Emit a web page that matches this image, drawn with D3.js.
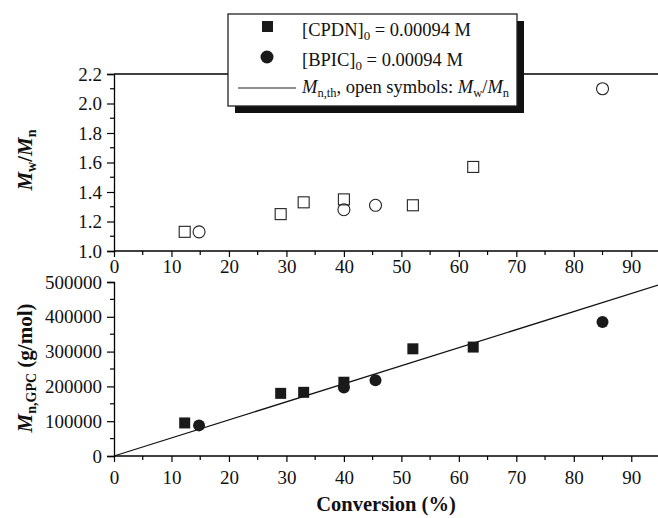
<!DOCTYPE html>
<html>
<head>
<meta charset="utf-8">
<script src="https://cdn.jsdelivr.net/npm/d3@7"></script>
<style>
  html, body { margin: 0; padding: 0; background: #fff; }
</style>
</head>
<body>
<svg id="chart" width="658" height="518"></svg>
<script>
// ---- data ----
const cpdnConversion = [12.3, 29, 33, 40, 52, 62.5];
const cpdnMn = [95000, 180000, 183000, 212000, 308000, 313000];
const cpdnPDI = [1.13, 1.25, 1.33, 1.35, 1.31, 1.57];

const bpicConversion = [14.8, 40, 45.5, 85];
const bpicMn = [88000, 197000, 218000, 385000];
const bpicPDI = [1.13, 1.28, 1.31, 2.10];

const theoryConversion = [0, 95];
const theoryMn = [0, 493000];

const xTicks = [0, 10, 20, 30, 40, 50, 60, 70, 80, 90];
const pdiTicks = [1.0, 1.2, 1.4, 1.6, 1.8, 2.0, 2.2];
const mnTicks = [0, 100000, 200000, 300000, 400000, 500000];

// ---- layout ----
const FONT = "\"Liberation Serif\"";
const svg = d3.select("#chart").style("font-family", FONT);
const x = d3.scaleLinear().domain([0, 95]).range([114, 660]);
const yTop = d3.scaleLinear().domain([1.0, 2.2]).range([251, 74]);
const yBot = d3.scaleLinear().domain([0, 500000]).range([456, 282]);

const tickFont = 19;

function xAxis(g, y0, labelGap) {
  const ax = d3.axisBottom(x).tickValues(xTicks).tickFormat(d3.format("d")).tickSize(6).tickPadding(labelGap);
  g.attr("transform", `translate(0,${y0})`).call(ax);
  const minors = d3.range(5, 96, 10);
  g.selectAll("line.minor").data(minors).enter().append("line")
    .attr("class", "minor").attr("x1", d => x(d)).attr("x2", d => x(d))
    .attr("y1", 0).attr("y2", 4).attr("stroke", "#000").attr("stroke-width", 1.2);
}
function yAxis(g, scale, ticks, minors, fmt) {
  const ax = d3.axisLeft(scale).tickValues(ticks).tickFormat(fmt).tickSize(7).tickPadding(5);
  g.attr("transform", `translate(${x(0)},0)`).call(ax);
  g.selectAll("line.minor").data(minors).enter().append("line")
    .attr("class", "minor").attr("y1", d => scale(d)).attr("y2", d => scale(d))
    .attr("x1", 0).attr("x2", -4).attr("stroke", "#000").attr("stroke-width", 1.2);
}
function styleAxis(g) {
  g.attr("font-family", null).attr("font-size", null);
  g.select(".domain").attr("stroke", "#000").attr("stroke-width", 1.3);
  g.selectAll(".tick line").attr("stroke", "#000").attr("stroke-width", 1.2);
  g.selectAll("text").style("font-size", tickFont + "px").attr("fill", "#111")
    .style("font-family", FONT);
}

// top panel
const gxTop = svg.append("g");
xAxis(gxTop, yTop(1.0), 3);
gxTop.select(".domain").attr("d", `M${x(0)},0H658`);
styleAxis(gxTop);

const gyTop = svg.append("g");
yAxis(gyTop, yTop, pdiTicks, [1.1, 1.3, 1.5, 1.7, 1.9, 2.1], d3.format(".1f"));
styleAxis(gyTop);

svg.append("line").attr("x1", x(0)).attr("x2", 658)
  .attr("y1", yTop(2.2)).attr("y2", yTop(2.2)).attr("stroke", "#000").attr("stroke-width", 1.3);

// bottom panel
const gxBot = svg.append("g");
xAxis(gxBot, yBot(0), 9);
gxBot.select(".domain").attr("d", `M${x(0)},0H658`);
styleAxis(gxBot);

const gyBot = svg.append("g");
yAxis(gyBot, yBot, mnTicks, d3.range(50000, 500000, 100000), d3.format("d"));
styleAxis(gyBot);

// theory line
const line = d3.line().x(d => x(d[0])).y(d => yBot(d[1]));
svg.append("path").datum(d3.zip(theoryConversion, theoryMn))
  .attr("d", line).attr("fill", "none").attr("stroke", "#111").attr("stroke-width", 1.3);

const sq = 11, rad = 6;
svg.append("g").selectAll("rect").data(d3.zip(cpdnConversion, cpdnPDI)).enter().append("rect")
  .attr("x", d => x(d[0]) - sq / 2).attr("y", d => yTop(d[1]) - sq / 2)
  .attr("width", sq).attr("height", sq).attr("fill", "none").attr("stroke", "#222").attr("stroke-width", 1.1);
svg.append("g").selectAll("circle").data(d3.zip(bpicConversion, bpicPDI)).enter().append("circle")
  .attr("cx", d => x(d[0])).attr("cy", d => yTop(d[1])).attr("r", rad)
  .attr("fill", "none").attr("stroke", "#222").attr("stroke-width", 1.1);

svg.append("g").selectAll("rect").data(d3.zip(cpdnConversion, cpdnMn)).enter().append("rect")
  .attr("x", d => x(d[0]) - sq / 2).attr("y", d => yBot(d[1]) - sq / 2)
  .attr("width", sq).attr("height", sq).attr("fill", "#1a1a1a");
svg.append("g").selectAll("circle").data(d3.zip(bpicConversion, bpicMn)).enter().append("circle")
  .attr("cx", d => x(d[0])).attr("cy", d => yBot(d[1])).attr("r", rad).attr("fill", "#1a1a1a");

// axis titles
svg.append("text").attr("x", x(0) + (658 - x(0)) / 2).attr("y", 511)
  .attr("text-anchor", "middle").style("font-size", "20.5px").attr("font-weight", "bold").attr("fill", "#111")
  .style("font-family", FONT).text("Conversion (%)");

const tTop = svg.append("text").attr("transform", "translate(32,160) rotate(-90)")
  .attr("text-anchor", "middle").style("font-size", "21px").attr("font-weight", "bold").attr("fill", "#111")
  .style("font-family", FONT);
tTop.append("tspan").attr("font-style", "italic").text("M");
tTop.append("tspan").style("font-size", "14px").attr("dy", 4).text("w");
tTop.append("tspan").attr("dy", -4).text("/");
tTop.append("tspan").attr("font-style", "italic").text("M");
tTop.append("tspan").style("font-size", "14px").attr("dy", 4).text("n");

const tBot = svg.append("text").attr("transform", "translate(32,368) rotate(-90)")
  .attr("text-anchor", "middle").style("font-size", "21px").attr("font-weight", "bold").attr("fill", "#111")
  .style("font-family", FONT);
tBot.append("tspan").attr("font-style", "italic").text("M");
tBot.append("tspan").style("font-size", "14px").attr("dy", 4).text("n,GPC");
tBot.append("tspan").attr("dy", -4).text(" (g/mol)");

// legend
const lg = svg.append("g");
lg.append("rect").attr("x", 235).attr("y", 21).attr("width", 289).attr("height", 92).attr("fill", "#111");
lg.append("rect").attr("x", 228).attr("y", 14).attr("width", 289).attr("height", 92)
  .attr("fill", "#fff").attr("stroke", "#222").attr("stroke-width", 1.3);
lg.append("rect").attr("x", 262).attr("y", 21).attr("width", 11).attr("height", 11).attr("fill", "#1a1a1a");
lg.append("circle").attr("cx", 267).attr("cy", 57).attr("r", 6.5).attr("fill", "#1a1a1a");
lg.append("line").attr("x1", 238).attr("x2", 296).attr("y1", 88).attr("y2", 88).attr("stroke", "#222").attr("stroke-width", 1.2);

function legendText(y) {
  return lg.append("text").attr("x", 302).attr("y", y).style("font-size", "18.5px")
    .style("font-family", FONT).attr("fill", "#111");
}
const l1 = legendText(36);
l1.append("tspan").text("[CPDN]");
l1.append("tspan").style("font-size", "13px").attr("dy", 4).text("0");
l1.append("tspan").attr("dy", -4).text(" = 0.00094 M");

const l2 = legendText(66);
l2.append("tspan").text("[BPIC]");
l2.append("tspan").style("font-size", "13px").attr("dy", 4).text("0");
l2.append("tspan").attr("dy", -4).text(" = 0.00094 M");

const l3 = legendText(93);
l3.append("tspan").attr("font-style", "italic").text("M");
l3.append("tspan").style("font-size", "12.5px").attr("dy", 4).text("n,th");
l3.append("tspan").attr("dy", -4).text(", open symbols: ");
l3.append("tspan").attr("font-style", "italic").text("M");
l3.append("tspan").style("font-size", "12.5px").attr("dy", 4).text("w");
l3.append("tspan").attr("dy", -4).text("/");
l3.append("tspan").attr("font-style", "italic").text("M");
l3.append("tspan").style("font-size", "12.5px").attr("dy", 4).text("n");
</script>
</body>
</html>
